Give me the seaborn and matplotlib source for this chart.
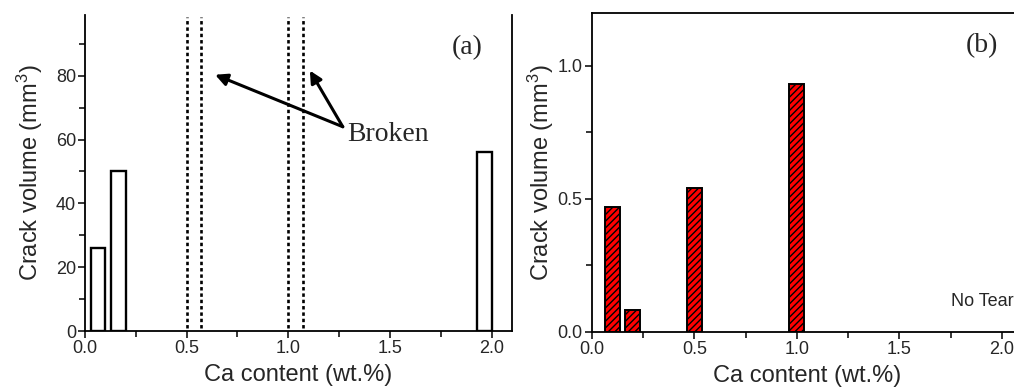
import matplotlib
matplotlib.use("Agg")
import matplotlib.pyplot as plt
from matplotlib.ticker import MultipleLocator, FormatStrFormatter
import pandas as pd
import seaborn as sns

# Crack volume vs. Ca content, two specimen series
ca_a = [0.1, 0.2, 2.0]
vol_a = [26, 50, 56]
broken_ca = [0.5, 1.0]

ca_b = [0.1, 0.2, 0.5, 1.0]
vol_b = [0.47, 0.08, 0.54, 0.93]

xlabel = "Ca content (wt.%)"
ylabel = "Crack volume (mm$^3$)"

sns.set_style("ticks")
plt.rcParams["font.family"] = ["Liberation Sans", "DejaVu Sans"]
plt.rcParams["mathtext.fontset"] = "custom"
plt.rcParams["mathtext.rm"] = "Liberation Sans"
plt.rcParams["mathtext.it"] = "Liberation Sans:italic"
plt.rcParams["hatch.linewidth"] = 1.0

fig = plt.figure(figsize=(10.14, 3.89), dpi=100)
ax_a = fig.add_axes([0.0838, 0.149, 0.4211, 0.8123])
ax_b = fig.add_axes([0.5835, 0.1473, 0.425, 0.820])

df_a = pd.DataFrame({"ca": ca_a, "vol": vol_a})
df_b = pd.DataFrame({"ca": ca_b, "vol": vol_b})

sns.barplot(data=df_a, x="ca", y="vol", native_scale=True, width=0.72,
            color="white", edgecolor="black", linewidth=1.7, saturation=1,
            errorbar=None, ax=ax_a)
bar_w = ax_a.patches[0].get_width()
# bars sit with their right edge on the nominal composition
for p in ax_a.patches:
    p.set_x(p.get_x() - p.get_width() / 2)

for x in broken_ca:
    for xx in (x, x + bar_w):
        ax_a.axvline(xx, ymin=0.01, ymax=0.995, color="black", lw=1.9,
                     linestyle=(0, (1.3, 1.1)))

sns.barplot(data=df_b, x="ca", y="vol", native_scale=True, width=0.72,
            color="#ff0000", edgecolor="black", linewidth=1.4, saturation=1,
            errorbar=None, ax=ax_b)
for p in ax_b.patches:
    p.set_hatch("/////")

for ax in (ax_a, ax_b):
    ax.set_xlim(0, 2.1)
    ax.xaxis.set_major_locator(MultipleLocator(0.5))
    ax.xaxis.set_minor_locator(MultipleLocator(0.25))
    ax.xaxis.set_major_formatter(FormatStrFormatter("%.1f"))
    ax.tick_params(which="major", direction="out", length=5, width=1.1,
                   labelsize=13, color="black", pad=1.5)
    ax.tick_params(which="minor", direction="out", length=4, width=1.1,
                   color="black")
    ax.set_xlabel(xlabel, fontsize=17, labelpad=5)
    for s in ax.spines.values():
        s.set_linewidth(1.3)
        s.set_color("black")
    ax.set_facecolor("white")

ax_a.set_ylim(0, 99)
ax_a.yaxis.set_major_locator(MultipleLocator(20))
ax_a.yaxis.set_minor_locator(MultipleLocator(10))
ax_a.set_yticks([0, 20, 40, 60, 80])
ax_a.set_ylabel(ylabel, fontsize=17, labelpad=8)
ax_a.spines["top"].set_visible(False)

ax_b.set_ylim(0, 1.2)
ax_b.yaxis.set_major_locator(MultipleLocator(0.5))
ax_b.yaxis.set_minor_locator(MultipleLocator(0.25))
ax_b.yaxis.set_major_formatter(FormatStrFormatter("%.1f"))
ax_b.set_ylabel(ylabel, fontsize=17, labelpad=1)

# annotations
serif = ["Liberation Serif", "DejaVu Serif"]
ax_a.text(0.895, 0.896, "(a)", transform=ax_a.transAxes, ha="center",
          va="center", fontsize=20, family=serif)
arrow = dict(arrowstyle="-|>", lw=2.2, color="black", mutation_scale=18,
             shrinkA=0, shrinkB=0)
ax_a.annotate("", xy=(0.64, 80.3), xytext=(1.268, 64), arrowprops=arrow)
ax_a.annotate("", xy=(1.106, 81.6), xytext=(1.268, 64), arrowprops=arrow)
ax_a.text(1.29, 61.5, "Broken", ha="left", va="center", fontsize=20,
          family=serif)

ax_b.text(1.9, 1.075, "(b)", ha="center", va="center", fontsize=20,
          family=serif)
ax_b.text(1.753, 0.113, "No Tearing", ha="left", va="center", fontsize=13)

fig.savefig("out.png", dpi=100, facecolor="white")
